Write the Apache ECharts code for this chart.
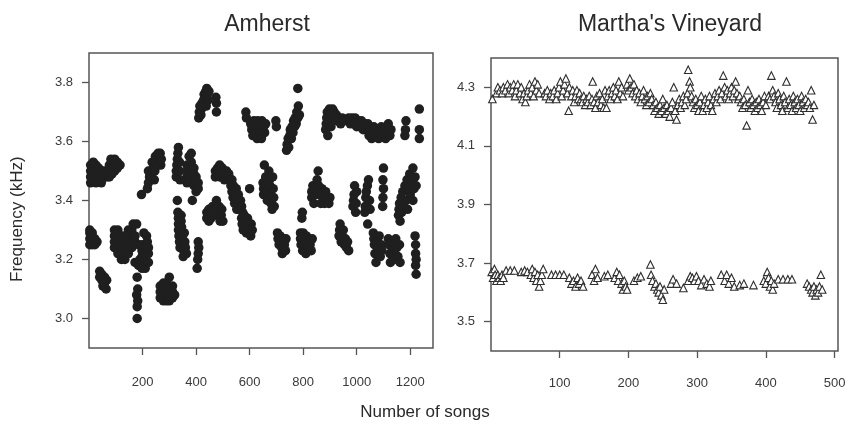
<!DOCTYPE html>
<html>
<head>
<meta charset="utf-8">
<script src="https://cdn.jsdelivr.net/npm/echarts@6/dist/echarts.min.js"></script>
<style>html,body{margin:0;padding:0;background:#fff}#c{width:850px;height:425px}</style>
</head>
<body>
<div id="c"></div>
<script>
// ---- Data ----
const titles = ["Amherst", "Martha's Vineyard"];
const xName = "Number of songs";
const yName = "Frequency (kHz)";
const amherstXTicks = [200, 400, 600, 800, 1000, 1200];
const amherstYTicks = [3.0, 3.2, 3.4, 3.6, 3.8];
const vineyardXTicks = [100, 200, 300, 400, 500];
const vineyardYTicks = [3.5, 3.7, 3.9, 4.1, 4.3];

// Amherst songs: [song number, frequency kHz]
const amherstEarly = [
[6,3.46],[6,3.48],[6,3.50],[6,3.52],[16,3.47],[16,3.49],[16,3.51],[16,3.53],[26,3.46],[26,3.48],[26,3.50],[26,3.52],[36,3.47],[36,3.49],[36,3.51],[46,3.46],[46,3.48],[46,3.50],[56,3.48],[56,3.50],
[66,3.48],[66,3.50],[76,3.48],[76,3.50],[76,3.52],[86,3.49],[86,3.51],[86,3.53],[96,3.50],[96,3.52],[96,3.54],[106,3.51],[106,3.53],[116,3.52],[82,3.54],
[3,3.25],[3,3.27],[3,3.29],[3,3.30],[12,3.25],[12,3.27],[12,3.29],[22,3.25],[22,3.27],[30,3.26],
[40,3.16],[40,3.14],[48,3.15],[48,3.13],[52,3.11],[58,3.12],[58,3.14],[64,3.10],[66,3.13],
[95,3.24],[95,3.26],[95,3.28],[95,3.30],[108,3.22],[108,3.24],[108,3.26],[108,3.28],[108,3.30],[121,3.20],[121,3.22],[121,3.24],[121,3.26],[121,3.28],[134,3.20],[134,3.22],[134,3.24],[134,3.26],[134,3.28],[147,3.22],[147,3.24],[147,3.26],[147,3.28],[147,3.30],[160,3.24],[160,3.26],[160,3.28],[160,3.30],[165,3.32],[178,3.32],
[172,3.19],[172,3.26],[172,3.28],[185,3.18],[185,3.25],[190,3.20],[198,3.19],[198,3.21],[198,3.23],[198,3.25],[210,3.17],[210,3.20],[210,3.22],[210,3.24],[222,3.19],[222,3.22],[222,3.24],[205,3.29],[215,3.28],[218,3.26],[198,3.17],
[180,3.14],[182,3.10],[178,3.08],[182,3.06],[180,3.04],[180,3.00],[196,3.42],
[218,3.44],[222,3.46],[226,3.48],[230,3.50],[222,3.50],[234,3.48],[238,3.50],[242,3.52],[236,3.53],[246,3.50],[250,3.53],[254,3.55],[248,3.55],[258,3.52],[262,3.54],[266,3.56],[258,3.56],[268,3.52],[270,3.54],[244,3.47],
[266,3.07],[266,3.09],[266,3.11],[278,3.06],[278,3.08],[278,3.10],[278,3.12],[290,3.06],[290,3.08],[290,3.10],[290,3.12],[300,3.06],[300,3.08],[300,3.10],[300,3.14],[312,3.07],[312,3.09],[312,3.11],[320,3.08],
[326,3.48],[326,3.50],[328,3.52],[330,3.54],[332,3.56],[334,3.58],[338,3.50],[338,3.53],[340,3.47],
[330,3.40],[332,3.36],[334,3.34],[334,3.32],[334,3.30],[336,3.28],[338,3.26],[340,3.24],[344,3.35],[344,3.33],[346,3.31],[346,3.29],[348,3.27],[350,3.25],[354,3.23],[356,3.29],[358,3.26],[360,3.24],[364,3.22],[352,3.21],[340,3.30],
[366,3.46],[366,3.48],[366,3.50],[366,3.52],[374,3.47],[374,3.49],[374,3.51],[374,3.55],[382,3.48],[382,3.50],[382,3.53],[382,3.56],[392,3.45],[392,3.47],[392,3.49],[392,3.51],[400,3.43],[400,3.46],[400,3.48],[408,3.44],[408,3.46],[386,3.40],
[404,3.17],[406,3.20],[408,3.22],[410,3.24],[408,3.26],
[410,3.68],[412,3.70],[414,3.72],[418,3.69],[420,3.71],[422,3.73],[426,3.72],[428,3.74],[430,3.76],[434,3.75],[436,3.77],[440,3.78],[442,3.76],[444,3.74],[438,3.72],[448,3.77],
[474,3.75],[476,3.73],[476,3.70]
];
const amherstMiddle = [
[440,3.34],[440,3.36],[448,3.33],[448,3.35],[448,3.37],[456,3.34],[458,3.36],[462,3.38],[468,3.37],[470,3.35],[476,3.40],[478,3.37],[484,3.35],[486,3.38],[490,3.33],[494,3.35],[496,3.37],[500,3.33],
[472,3.48],[472,3.50],[480,3.49],[480,3.51],[488,3.48],[488,3.50],[488,3.52],[498,3.49],[498,3.51],[506,3.47],[506,3.50],[514,3.48],[514,3.50],[522,3.49],[526,3.47],
[528,3.47],[530,3.45],[534,3.43],[534,3.47],[538,3.41],[540,3.45],[542,3.43],[544,3.39],[548,3.41],[550,3.44],[552,3.37],[556,3.39],[558,3.42],[562,3.37],[566,3.40],[570,3.38],[574,3.36],
[570,3.34],[572,3.32],[576,3.30],[580,3.35],[582,3.33],[586,3.31],[588,3.29],[592,3.34],[596,3.32],[600,3.30],[604,3.28],[606,3.32],[610,3.30],[600,3.44],
[586,3.70],[588,3.68],
[604,3.66],[608,3.64],[612,3.62],[616,3.67],[620,3.65],[624,3.63],[628,3.61],[630,3.67],[636,3.65],[640,3.63],[644,3.61],[646,3.67],[652,3.65],[656,3.63],[660,3.66],[698,3.67],[700,3.65],
[655,3.52],[650,3.46],[652,3.44],[652,3.42],[660,3.48],[662,3.45],[664,3.43],[666,3.40],[672,3.50],[674,3.47],[676,3.45],[678,3.42],[680,3.39],[686,3.48],[688,3.44],[690,3.41],[692,3.38],[684,3.37],
[704,3.29],[706,3.27],[710,3.25],[714,3.28],[716,3.26],[720,3.24],[722,3.22],[728,3.27],[730,3.25],[734,3.23],[736,3.27],
[738,3.57],[740,3.59],[744,3.61],[746,3.58],[750,3.62],[752,3.64],[756,3.61],[758,3.65],[762,3.63],[764,3.67],[768,3.65],[770,3.68],[774,3.66],[776,3.70],[780,3.68],[782,3.72],[786,3.69],[780,3.78],
[790,3.29],[790,3.27],[792,3.25],[798,3.23],[800,3.29],[802,3.27],[806,3.25],[810,3.22],[812,3.28],[814,3.26],[818,3.24],[822,3.27],[826,3.25],[830,3.23],[834,3.27],[795,3.34],[797,3.36]
];
const amherstLate = [
[832,3.41],[832,3.43],[836,3.45],[840,3.39],[846,3.42],[848,3.44],[852,3.47],[856,3.50],[858,3.45],[862,3.42],[866,3.39],[870,3.44],[874,3.41],[880,3.39],[884,3.43],[890,3.40],[896,3.39],[900,3.41],
[884,3.64],[886,3.66],[888,3.68],[890,3.70],[892,3.62],[896,3.67],[898,3.71],[902,3.69],[904,3.65],[910,3.71],[916,3.70],[918,3.68],[924,3.69],[928,3.67],[934,3.68],[940,3.66],[946,3.68],[952,3.67],
[934,3.28],[936,3.30],[938,3.32],[942,3.26],[946,3.28],[950,3.30],[954,3.25],[958,3.27],[962,3.24],[966,3.26],[970,3.23],
[970,3.68],[976,3.66],[982,3.68],[988,3.66],[994,3.68],[1000,3.65],[1006,3.67],[1012,3.65],[1018,3.67],[1024,3.64],[1030,3.66],[1036,3.64],[1042,3.66],
[1046,3.62],[1050,3.64],[1056,3.61],[1060,3.63],[1064,3.65],[1070,3.62],[1076,3.64],[1082,3.61],[1086,3.63],[1092,3.65],[1096,3.62],[1102,3.64],[1108,3.61],[1112,3.63],[1118,3.66],[1124,3.62],[1128,3.64],
[986,3.38],[988,3.40],[990,3.42],[992,3.45],[996,3.36],[998,3.39],[1000,3.43],[1030,3.36],[1032,3.38],[1034,3.41],[1036,3.43],[1040,3.45],[1044,3.47],[1048,3.40],[1050,3.37],[1041,3.32],
[1062,3.29],[1064,3.27],[1066,3.25],[1068,3.22],[1072,3.19],[1076,3.26],[1080,3.24],[1084,3.28],[1088,3.21],[1092,3.25],[1094,3.23],
[1097,3.38],[1098,3.41],[1100,3.44],[1098,3.47],[1100,3.51],
[1118,3.27],[1120,3.25],[1124,3.22],[1126,3.19],[1132,3.26],[1136,3.23],[1140,3.20],[1146,3.27],[1150,3.24],[1154,3.21],[1160,3.25],[1162,3.19],
[1156,3.35],[1158,3.37],[1160,3.39],[1162,3.33],[1166,3.41],[1168,3.36],[1172,3.43],[1176,3.38],[1180,3.45],[1184,3.40],[1188,3.47],[1194,3.44],[1198,3.49],[1200,3.42],[1206,3.46],[1210,3.51],[1214,3.44],[1218,3.48],[1222,3.45],[1210,3.40],[1190,3.37],
[1180,3.62],[1182,3.64],[1184,3.67],
[1218,3.28],[1220,3.25],[1220,3.22],[1222,3.20],[1220,3.18],[1222,3.15],
[1234,3.71],[1234,3.64],[1234,3.61]
];

// Martha's Vineyard: high note and low note per song
const vineyardHigh = [
[2,4.26],[8,4.28],[10,4.30],[13,4.29],[16,4.28],[18,4.30],[21,4.29],[24,4.31],[26,4.28],[28,4.30],
[31,4.29],[33,4.31],[35,4.27],[37,4.29],[39,4.31],[42,4.28],[44,4.30],[46,4.26],[48,4.28],[50,4.25],[52,4.27],
[54,4.29],[56,4.31],[58,4.28],[60,4.30],[62,4.27],[64,4.32],[66,4.29],[68,4.31],[70,4.28],
[78,4.28],[80,4.27],[82,4.29],[85,4.26],[87,4.28],[90,4.27],[92,4.29],[95,4.26],[97,4.28],
[99,4.30],[101,4.32],[103,4.27],[105,4.29],[107,4.31],[109,4.33],[111,4.28],[113,4.22],[114,4.30],
[117,4.27],[119,4.29],[121,4.25],[123,4.27],[125,4.29],[127,4.26],[129,4.28],
[131,4.26],[133,4.25],[135,4.27],[137,4.24],[139,4.26],[141,4.25],[143,4.27],[145,4.24],[147,4.26],[148,4.32],
[150,4.25],[152,4.23],[154,4.27],[156,4.25],[158,4.28],[160,4.24],[162,4.26],[164,4.23],[166,4.29],[168,4.23],
[170,4.27],[172,4.29],[174,4.26],[176,4.28],[178,4.30],[180,4.27],[182,4.29],[184,4.26],[186,4.32],[188,4.28],[190,4.30],[192,4.27],
[198,4.31],[200,4.29],[202,4.33],[204,4.30],[206,4.28],[208,4.31],[210,4.27],[212,4.29],
[214,4.26],[216,4.28],[218,4.25],[220,4.27],[222,4.29],[224,4.26],[226,4.24],[228,4.27],[230,4.25],[232,4.28],[234,4.26],[236,4.24],
[238,4.22],[240,4.25],[242,4.23],[244,4.21],[246,4.24],[248,4.22],[250,4.26],[252,4.23],[254,4.21],
[256,4.24],[258,4.22],[260,4.20],[262,4.23],[264,4.25],[266,4.30],[268,4.22],[270,4.19],[272,4.24],[274,4.26],
[276,4.23],[278,4.25],[280,4.27],[282,4.24],[284,4.26],[286,4.28],[287,4.36],[289,4.32],[290,4.30],[292,4.27],[294,4.25],[296,4.23],[298,4.26],[300,4.24],[302,4.22],[304,4.25],[306,4.27],[308,4.22],[310,4.24],[312,4.26],[314,4.23],[316,4.25],[318,4.27],[320,4.24],[322,4.22],[324,4.26],[326,4.28],[328,4.25],[330,4.27],[332,4.29],
[334,4.26],[336,4.28],[338,4.34],[340,4.30],[342,4.27],[344,4.29],[346,4.26],[348,4.28],[350,4.30],[352,4.27],[354,4.29],[356,4.32],[358,4.28],[360,4.26],
[362,4.27],[364,4.25],[366,4.23],[368,4.26],[370,4.24],[372,4.17],[374,4.29],[376,4.25],[378,4.23],[380,4.26],[382,4.24],[384,4.22],[386,4.25],[388,4.23],[390,4.26],[392,4.24],[394,4.22],[396,4.25],[398,4.27],[400,4.24],
[404,4.27],[406,4.26],[408,4.34],[410,4.29],[412,4.27],[414,4.25],[416,4.23],[418,4.28],[420,4.26],[422,4.24],[424,4.22],[426,4.27],[428,4.25],[430,4.32],[432,4.23],[434,4.26],[436,4.24],[438,4.22],[440,4.27],[442,4.25],[444,4.23],[446,4.26],[448,4.24],[450,4.22],[452,4.27],[454,4.25],[456,4.23],[458,4.26],[460,4.24],[462,4.25],[464,4.23],[466,4.29],[468,4.19],[470,4.24]
];
const vineyardLow = [
[1,3.67],[3,3.65],[5,3.68],[6,3.66],[8,3.64],[10,3.66],[12,3.65],[14,3.64],[16,3.66],[18,3.65],
[22,3.675],[28,3.675],[34,3.675],[44,3.67],[49,3.675],[53,3.67],
[58,3.66],[60,3.68],[62,3.65],[64,3.67],[66,3.64],[68,3.66],[70,3.62],[72,3.64],[74,3.66],[76,3.68],
[88,3.66],[94,3.66],[100,3.66],[106,3.66],
[114,3.65],[117,3.63],[120,3.64],[123,3.62],[126,3.65],[128,3.63],[131,3.64],[134,3.62],
[147,3.66],[150,3.64],[152,3.68],[155,3.65],[165,3.655],[170,3.66],
[180,3.65],[183,3.67],[185,3.64],[187,3.66],[190,3.63],[192,3.61],[194,3.64],[196,3.62],[198,3.61],
[208,3.64],[213,3.65],[218,3.655],
[232,3.695],[233,3.66],[235,3.64],[238,3.62],[240,3.63],[242,3.61],[244,3.60],[246,3.62],[248,3.59],[250,3.575],[252,3.61],
[262,3.63],[265,3.645],[270,3.63],[280,3.615],
[287,3.64],[290,3.655],[293,3.65],[296,3.64],[299,3.655],[302,3.64],
[306,3.625],[310,3.645],[314,3.63],[318,3.62],[320,3.64],
[335,3.66],[340,3.64],[343,3.66],[346,3.63],[350,3.65],[354,3.62],[362,3.625],[368,3.63],[382,3.625],
[397,3.64],[400,3.63],[402,3.67],[404,3.65],[406,3.62],[408,3.64],[410,3.61],[412,3.63],
[418,3.645],[425,3.645],[432,3.645],[438,3.645],
[460,3.63],[463,3.62],[466,3.61],[468,3.60],[470,3.62],[472,3.59],[474,3.61],[476,3.60],[478,3.62],[480,3.66],[482,3.61]
];

// ---- Chart ----
const FONT = 'Liberation Sans, Arial, sans-serif';
const INK = '#3a3a3a';
function axisCommon(ticks, decimals, margin) {
  return {
    type: 'value',
    splitLine: {show: false},
    axisLine: {show: false},
    axisTick: {show: true, inside: false, length: 7, lineStyle: {color: '#555', width: 1.3}, customValues: ticks},
    axisLabel: {show: true, margin: margin, color: INK, fontFamily: FONT, fontSize: 13,
      customValues: ticks,
      formatter: v => decimals ? Number(v).toFixed(decimals) : String(Math.round(v))}
  };
}
const chart = echarts.init(document.getElementById('c'), null, {renderer: 'canvas'});
chart.setOption({
  backgroundColor: '#fff',
  animation: false,
  title: [
    {text: titles[0], left: 262, top: 8, textAlign: 'center', textStyle: {fontFamily: FONT, fontSize: 23, fontWeight: 'normal', color: '#2a2a2a'}},
    {text: titles[1], left: 665, top: 8, textAlign: 'center', textStyle: {fontFamily: FONT, fontSize: 23, fontWeight: 'normal', color: '#2a2a2a'}}
  ],
  graphic: [
    {type: 'text', left: 'center', top: 404, style: {text: xName, font: '17px ' + FONT, fill: '#2a2a2a'}},
    {type: 'text', x: 9, y: 282, rotation: Math.PI / 2, style: {text: yName, font: '17px ' + FONT, fill: '#2a2a2a'}}
  ],
  grid: [
    {left: 89, top: 53, width: 344, height: 295, show: true, borderColor: '#555', borderWidth: 1.5, backgroundColor: 'transparent'},
    {left: 491, top: 58, width: 347, height: 293, show: true, borderColor: '#555', borderWidth: 1.5, backgroundColor: 'transparent'}
  ],
  xAxis: [
    Object.assign(axisCommon(amherstXTicks, 0, 28), {gridIndex: 0, min: 0, max: 1285}),
    Object.assign(axisCommon(vineyardXTicks, 0, 26), {gridIndex: 1, min: 0, max: 505})
  ],
  yAxis: [
    Object.assign(axisCommon(amherstYTicks, 1, 16), {gridIndex: 0, min: 2.9, max: 3.9}),
    Object.assign(axisCommon(vineyardYTicks, 1, 16), {gridIndex: 1, min: 3.4, max: 4.4})
  ],
  series: [
    {type: 'scatter', xAxisIndex: 0, yAxisIndex: 0, data: amherstEarly, symbol: 'circle', symbolSize: 9.5, itemStyle: {color: '#1f1f1f', opacity: 1}},
    {type: 'scatter', xAxisIndex: 0, yAxisIndex: 0, data: amherstMiddle, symbol: 'circle', symbolSize: 9.5, itemStyle: {color: '#1f1f1f', opacity: 1}},
    {type: 'scatter', xAxisIndex: 0, yAxisIndex: 0, data: amherstLate, symbol: 'circle', symbolSize: 9.5, itemStyle: {color: '#1f1f1f', opacity: 1}},
    {type: 'scatter', xAxisIndex: 1, yAxisIndex: 1, data: vineyardHigh, symbol: 'triangle', symbolSize: 7.5, itemStyle: {color: '#fff', borderColor: '#2e2e2e', borderWidth: 1.1, opacity: 1}},
    {type: 'scatter', xAxisIndex: 1, yAxisIndex: 1, data: vineyardLow, symbol: 'triangle', symbolSize: 7.5, itemStyle: {color: '#fff', borderColor: '#2e2e2e', borderWidth: 1.1, opacity: 1}}
  ]
});
</script>
</body>
</html>
